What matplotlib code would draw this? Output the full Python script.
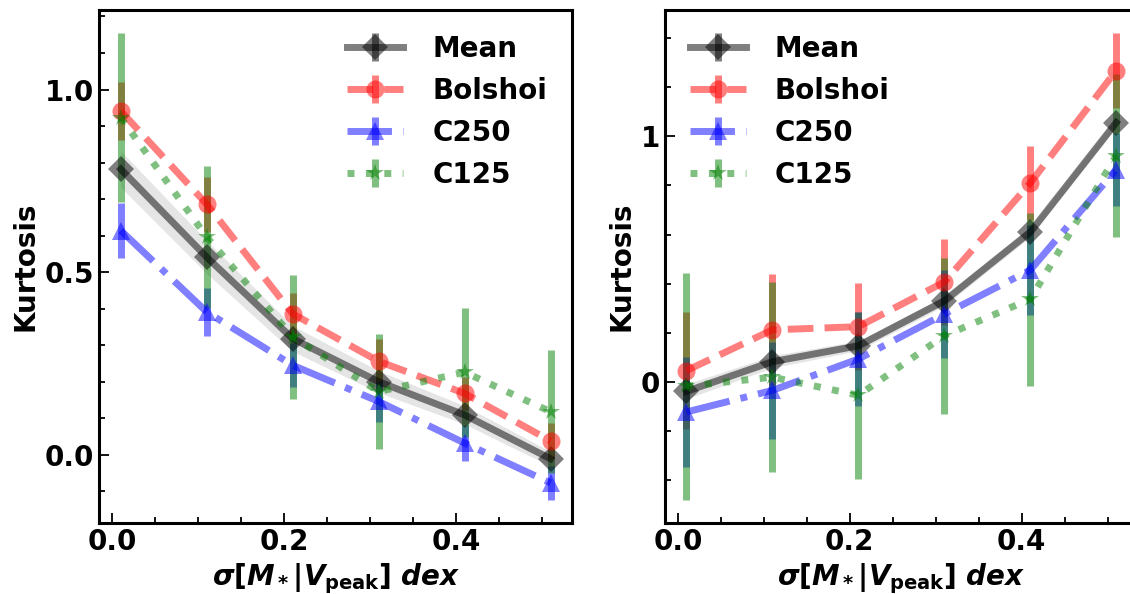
import numpy as np
import matplotlib
matplotlib.use("Agg")
import matplotlib.pyplot as plt
from matplotlib.ticker import MultipleLocator

plt.rcParams['font.size'] = 20
plt.rcParams['font.weight'] = 'bold'
plt.rcParams['axes.labelweight'] = 'bold'
plt.rcParams['mathtext.fontset'] = 'custom'
plt.rcParams['mathtext.rm'] = 'DejaVu Sans:bold'
plt.rcParams['mathtext.it'] = 'DejaVu Sans:italic:bold'
plt.rcParams['mathtext.bf'] = 'DejaVu Sans:bold'

# scatter in M* at fixed Vpeak
sigma = [0.01, 0.11, 0.21, 0.31, 0.41, 0.51]

# left panel
mean_l = [0.782, 0.541, 0.318, 0.200, 0.109, -0.011]
band_l = [0.05, 0.045, 0.035, 0.03, 0.025, 0.02]
bol_l = [0.941, 0.686, 0.386, 0.256, 0.168, 0.038]
bol_l_err = [0.08, 0.075, 0.058, 0.06, 0.045, 0.05]
c250_l = [0.614, 0.391, 0.245, 0.146, 0.032, -0.077]
c250_l_err = [0.075, 0.066, 0.06, 0.055, 0.05, 0.046]
c125_l = [0.923, 0.596, 0.323, 0.173, 0.226, 0.118]
c125_l_err = [0.231, 0.195, 0.17, 0.157, 0.176, 0.168]

# right panel
mean_r = [-0.040, 0.081, 0.146, 0.329, 0.61, 1.057]
band_r = [0.03, 0.025, 0.02, 0.02, 0.02, 0.02]
bol_r = [0.045, 0.211, 0.224, 0.406, 0.81, 1.269]
bol_r_err = [0.24, 0.227, 0.177, 0.176, 0.15, 0.152]
c250_r = [-0.124, -0.036, 0.092, 0.275, 0.455, 0.865]
c250_r_err = [0.224, 0.198, 0.19, 0.18, 0.185, 0.15]
c125_r = [-0.019, 0.018, -0.056, 0.187, 0.336, 0.922]
c125_r_err = [0.463, 0.388, 0.34, 0.318, 0.353, 0.334]


def panel(ax, mean, band, bol, bol_err, c250, c250_err, c125, c125_err):
    x = np.array(sigma)
    mean = np.array(mean)
    band = np.array(band)
    ekw = dict(alpha=0.5, lw=5, elinewidth=5, capsize=2.5, capthick=1,
               ms=13, mew=0)
    ax.errorbar(x, mean, yerr=np.zeros(len(x)), fmt='D-', color='k',
                label='Mean', **ekw)
    ax.fill_between(x, mean - band, mean + band, color='gray', alpha=0.2, lw=0)
    ax.errorbar(x, bol, yerr=bol_err, fmt='o--', color='r', label='Bolshoi', **ekw)
    ax.errorbar(x, c250, yerr=c250_err, fmt='^-.', color='b', label='C250', **ekw)
    ax.errorbar(x, c125, yerr=c125_err, fmt='*:', color='g', label='C125', **ekw)

    ax.set_xlabel(r'$\sigma[M_*|V_{\rm peak}]\ dex$')
    ax.set_ylabel('Kurtosis')
    ax.xaxis.set_major_locator(MultipleLocator(0.2))
    ax.xaxis.set_minor_locator(MultipleLocator(0.05))
    ax.tick_params(which='both', direction='in', width=1.3)
    ax.tick_params(which='major', length=7)
    ax.tick_params(which='minor', length=4)
    for s in ax.spines.values():
        s.set_linewidth(2.2)


fig = plt.figure(figsize=(11.3, 5.94), dpi=100)
ax1 = fig.add_axes([0.0879, 0.1195, 0.4183, 0.8637])
ax2 = fig.add_axes([0.5885, 0.1195, 0.4183, 0.8637])

panel(ax1, mean_l, band_l, bol_l, bol_l_err, c250_l, c250_l_err, c125_l, c125_l_err)
ax1.yaxis.set_major_locator(MultipleLocator(0.5))
ax1.yaxis.set_minor_locator(MultipleLocator(0.1))
ax1.legend(loc='upper right', frameon=False, handletextpad=1.05)

panel(ax2, mean_r, band_r, bol_r, bol_r_err, c250_r, c250_r_err, c125_r, c125_r_err)
ax2.yaxis.set_major_locator(MultipleLocator(1))
ax2.yaxis.set_minor_locator(MultipleLocator(0.2))
ax2.legend(loc='upper left', frameon=False, handletextpad=1.05)

fig.savefig('out.png', dpi=100)
